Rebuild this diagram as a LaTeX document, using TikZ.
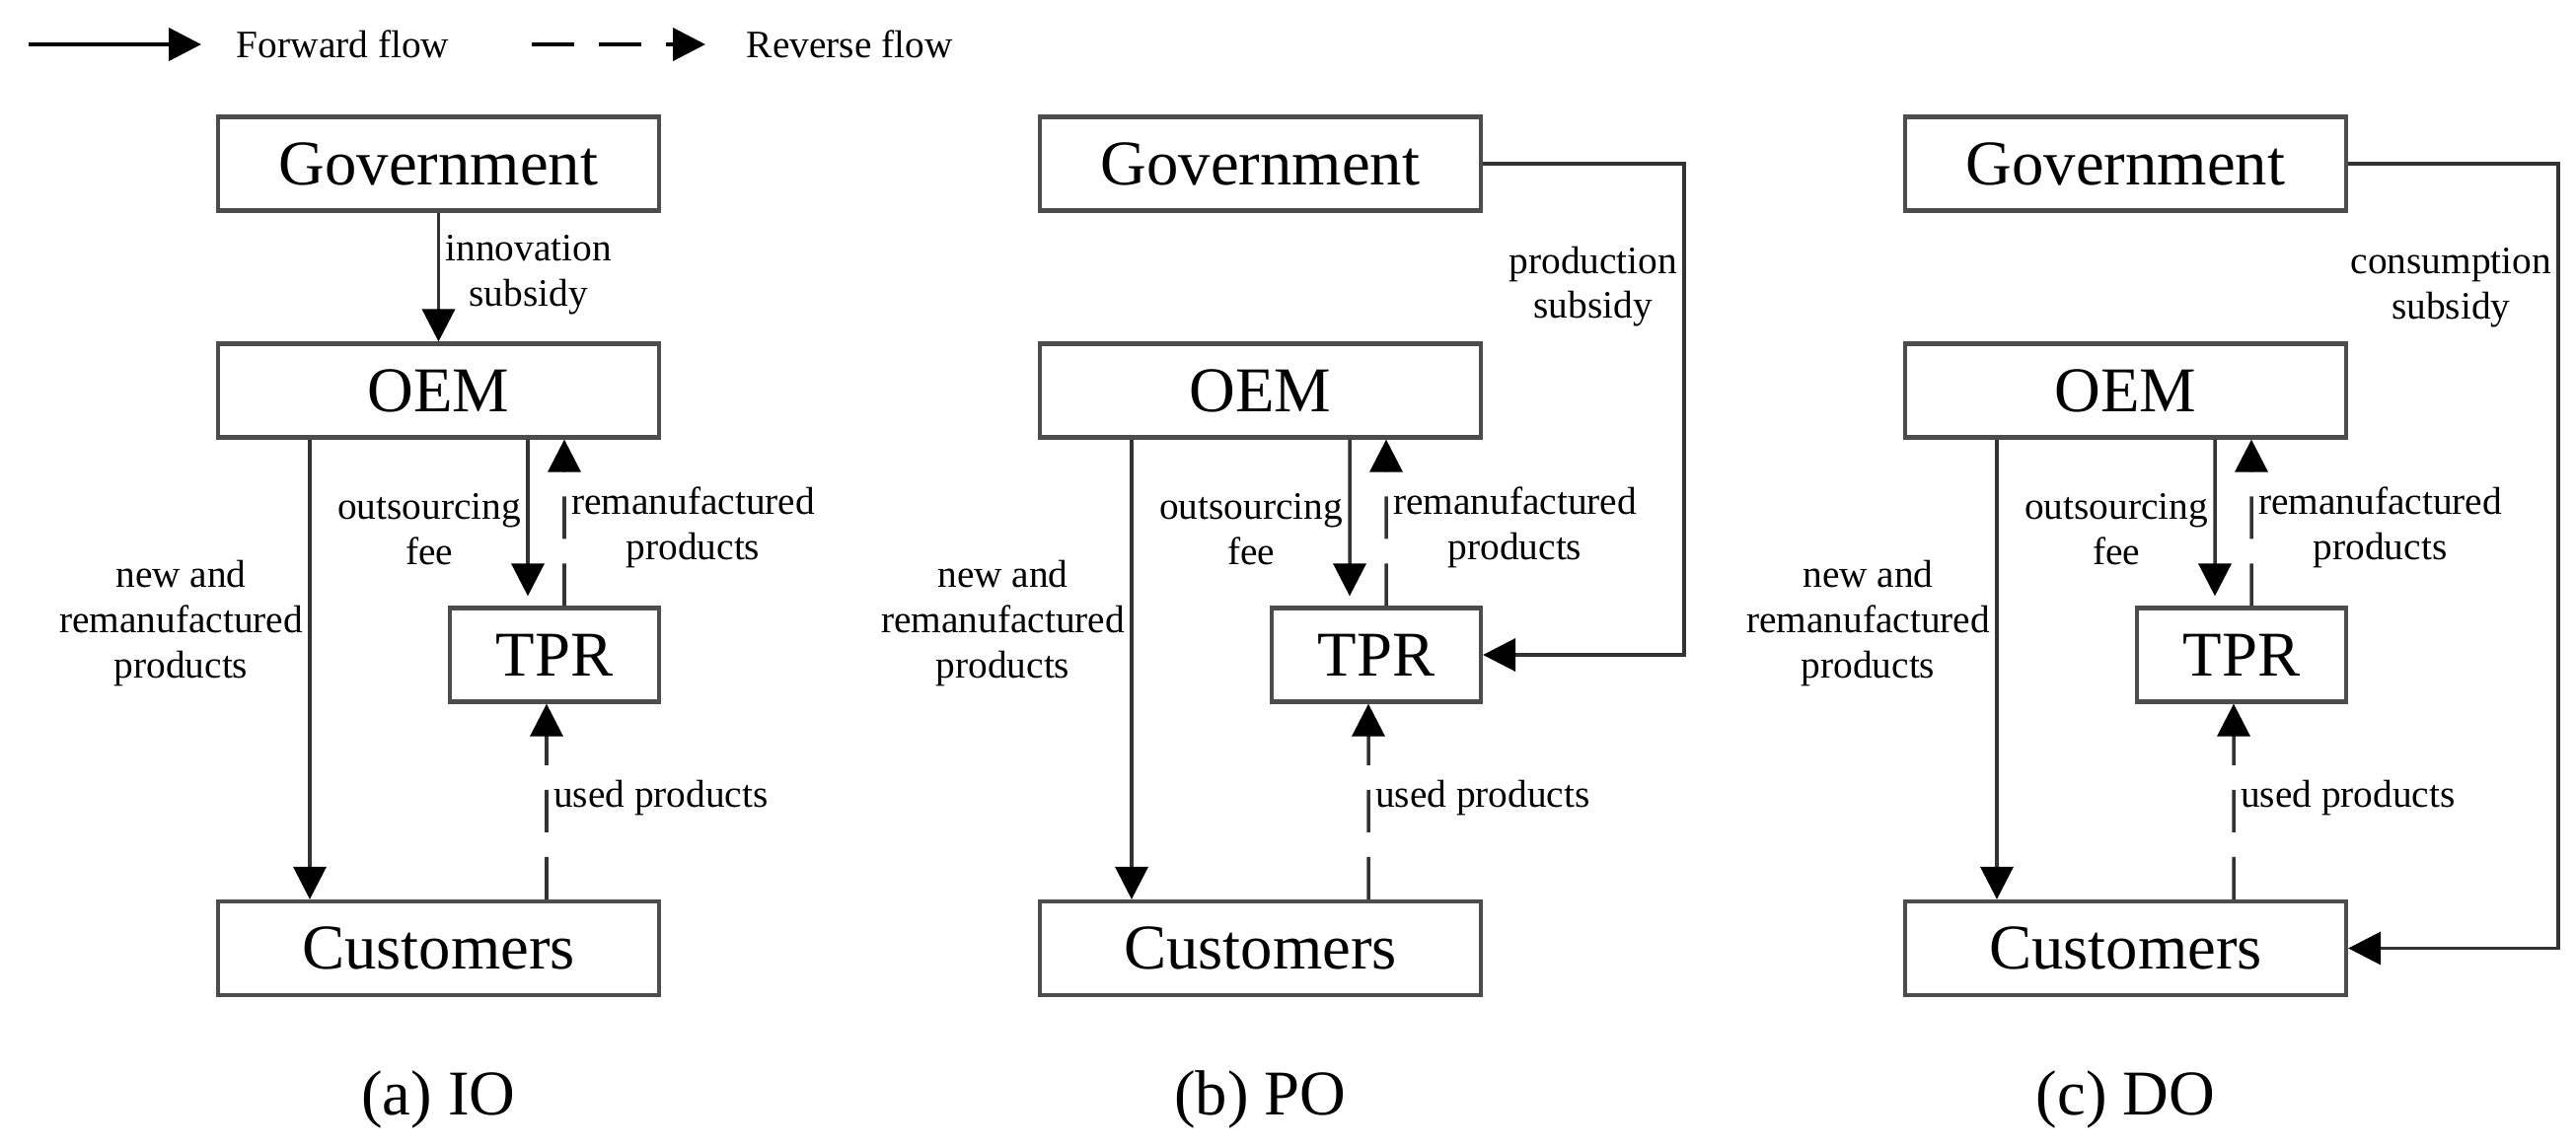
\documentclass[tikz,border=0pt]{standalone}
\usepackage{fontspec}
\setmainfont{Liberation Serif}
\usetikzlibrary{arrows.meta, calc}

\begin{document}
\begin{tikzpicture}[>={Triangle[length=3.3mm, width=3.3mm, color=black]},
  agent/.style={draw=black!70, line width=1.2pt, minimum height=0.95cm, inner sep=0pt, font=\fontsize{18.4}{22}\selectfont},
  flow/.style={->, line width=1pt, draw=black!80},
  backflow/.style={flow, dash pattern=on 4.3mm off 2.5mm},
  lbl/.style={font=\fontsize{11.2}{13}\selectfont, align=center, inner sep=1.5pt}]
  \useasboundingbox (0,0) rectangle (26.11,-11.63);

  % legend
  \coordinate (fwdS) at (0.29,-0.45);
  \coordinate (fwdE) at (2.04,-0.45);
  \node[lbl, anchor=west] (fwdtxt) at (2.34,-0.45) {Forward flow};
  \draw[flow, draw=black, line width=1.2pt] (fwdS) -- (fwdE);
  \coordinate (revS) at (5.39,-0.45);
  \coordinate (revE) at (7.15,-0.45);
  \node[lbl, anchor=west] (revtxt) at (7.51,-0.45) {Reverse flow};
  \draw[backflow, draw=black, line width=1.2pt] (revS) -- (revE);

  % the three cases
  \foreach \p/\dx/\cap in {a/0/(a) IO, b/8.33/(b) PO, c/17.10/(c) DO} {
    \node[agent, minimum width=4.47cm] (gov\p) at (4.445+\dx,-1.66) {Government};
    \node[agent, minimum width=4.47cm] (oem\p) at (4.445+\dx,-3.96) {OEM};
    \node[agent, minimum width=2.12cm] (tpr\p) at (5.62+\dx,-6.64) {TPR};
    \node[agent, minimum width=4.47cm] (cus\p) at (4.445+\dx,-9.615) {Customers};
    \node[font=\fontsize{18.4}{22}\selectfont, anchor=base] (cap\p) at (4.445+\dx,-11.30) {\cap};

    \draw[flow] ([xshift=-1.305cm]oem\p.south) -- ([xshift=-1.305cm]cus\p.north)
      node[lbl, pos=0.4, left=0pt] {new and\\remanufactured\\products};
    \draw[flow, shorten >=1mm] ([xshift=0.905cm]oem\p.south) -- ([xshift=-0.27cm]tpr\p.north)
      node[lbl, pos=0.54, left=0pt] {outsourcing\\fee};
    \draw[backflow] ([xshift=0.1cm]tpr\p.north) -- ([xshift=1.275cm]oem\p.south)
      node[lbl, pos=0.47, right=0pt] {remanufactured\\products};
    \draw[backflow] ([xshift=1.095cm]cus\p.north) -- ([xshift=-0.08cm]tpr\p.south)
      node[lbl, pos=0.52, right=0pt] {used products};
  }

  % subsidies
  \draw[flow] (gova) -- (oema) node[lbl, pos=0.48, right=0pt] {innovation\\subsidy};
  \draw[flow] (govb.east) -- ++(2.04,0) |- (tprb.east)
    node[lbl, pos=0.125, left=0pt] {production\\subsidy};
  \draw[flow] (govc.east) -- ++(2.13,0) |- (cusc.east)
    node[lbl, pos=0.079, left=0pt] {consumption\\subsidy};
\end{tikzpicture}
\end{document}
